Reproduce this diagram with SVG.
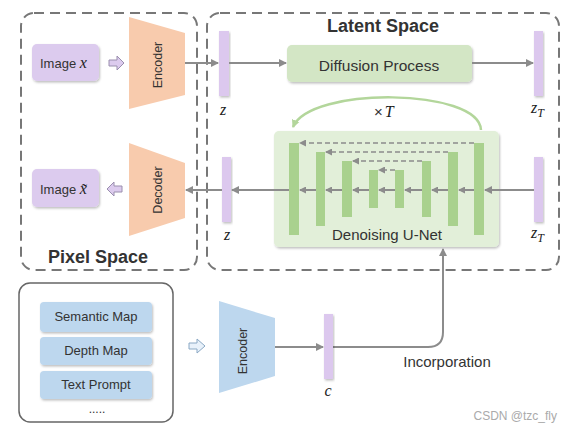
<svg xmlns="http://www.w3.org/2000/svg" width="572" height="432" viewBox="0 0 572 432">
<style>
.lbl{font-family:"Liberation Sans",Arial,sans-serif;fill:#333;}
.math{font-family:"Liberation Serif","DejaVu Serif",serif;font-style:italic;fill:#222;}
.title{font-family:"Liberation Sans",Arial,sans-serif;font-weight:bold;font-size:18px;fill:#333;}
.region{fill:none;stroke:#777;stroke-width:2;stroke-dasharray:10,6;}
.img{fill:#dccbee;}
.bar{fill:#dcc8ee;}
.ubar{fill:#a9d18e;}
.blue{fill:#bdd7ee;}
.conn{fill:none;stroke:#8c8c8c;stroke-width:2;}
.skip{fill:none;stroke:#8c8c8c;stroke-width:1.5;stroke-dasharray:5,3;}
</style>
<defs>
<filter id="sh" x="-20%" y="-20%" width="140%" height="140%">
<feDropShadow dx="1" dy="1.5" stdDeviation="1" flood-color="#000" flood-opacity="0.25"/>
</filter>
<marker id="ah" markerWidth="8" markerHeight="8" refX="7" refY="4" orient="auto" markerUnits="userSpaceOnUse">
<path d="M0,0 L8,4 L0,8 Z" fill="#8c8c8c"/>
</marker>
<marker id="ahs" markerWidth="7" markerHeight="7" refX="6" refY="3.5" orient="auto" markerUnits="userSpaceOnUse">
<path d="M0,0 L7,3.5 L0,7 Z" fill="#8c8c8c"/>
</marker>
<marker id="ahg" markerWidth="10" markerHeight="10" refX="7" refY="5" orient="auto" markerUnits="userSpaceOnUse">
<path d="M0,1 L8,5 L0,9 Z" fill="#b3d69b"/>
</marker>
</defs>
<rect width="572" height="432" fill="#fff"/>

<g id="pixel-space">
<rect class="region" x="21" y="13" width="176" height="257" rx="13"/>
<text class="title" x="98" y="263" text-anchor="middle">Pixel Space</text>
</g>
<g id="latent-space">
<rect class="region" x="207" y="13" width="352" height="257" rx="13"/>
<text class="title" x="383" y="32" text-anchor="middle">Latent Space</text>
</g>

<g id="image-x">
<rect class="img" x="32" y="44" width="67" height="37" rx="5" filter="url(#sh)"/>
<text class="lbl" x="40" y="68" font-size="13">Image <tspan class="math" font-size="16">x</tspan></text>
</g>
<g id="image-xt">
<rect class="img" x="32" y="169" width="67" height="38" rx="5" filter="url(#sh)"/>
<text class="lbl" x="40" y="194" font-size="13">Image <tspan class="math" font-size="16">x̃</tspan></text>
</g>

<g id="arrow-in">
<path d="M109,60 H117 V56 L124,63 L117,70 V66 H109 Z" fill="#dccbee" stroke="#9a8fae" stroke-width="1"/>
</g>
<g id="arrow-out">
<path d="M122,186 H114 V182 L107,189 L114,196 V192 H122 Z" fill="#dccbee" stroke="#9a8fae" stroke-width="1"/>
</g>

<g id="encoder">
<path d="M129,17 L185,33 L185,95 L129,109 Z" fill="#f8cbad"/>
<text class="lbl" font-size="12.5" text-anchor="middle" transform="translate(162,65) rotate(-90)">Encoder</text>
</g>
<g id="decoder">
<path d="M129,143 L185,163 L185,218 L129,236 Z" fill="#f8cbad"/>
<text class="lbl" font-size="12.5" text-anchor="middle" transform="translate(162,190) rotate(-90)">Decoder</text>
</g>

<g id="z-top">
<rect class="bar" x="219" y="31" width="10" height="65" filter="url(#sh)"/>
<text class="math" x="223" y="115" font-size="16" text-anchor="middle">z</text>
</g>
<g id="z-bottom">
<rect class="bar" x="222" y="157" width="9" height="65" filter="url(#sh)"/>
<text class="math" x="227" y="240" font-size="16" text-anchor="middle">z</text>
</g>

<g id="diffusion">
<rect x="287" y="45" width="185" height="37" rx="5" fill="#d3e6c5" filter="url(#sh)"/>
<text class="lbl" x="379" y="71" font-size="15.5" text-anchor="middle">Diffusion Process</text>
</g>

<g id="zT-top">
<rect class="bar" x="534" y="31" width="9" height="65" filter="url(#sh)"/>
<text class="math" x="531" y="113" font-size="16">z<tspan font-size="12" dy="4">T</tspan></text>
</g>
<g id="zT-bottom">
<rect class="bar" x="534" y="157" width="9" height="65" filter="url(#sh)"/>
<text class="math" x="531" y="238" font-size="16">z<tspan font-size="12" dy="4">T</tspan></text>
</g>

<g id="unet">
<rect x="274" y="131" width="225" height="116" rx="5" fill="#e2efd9" filter="url(#sh)"/>
<text class="lbl" x="387" y="240" font-size="15" text-anchor="middle">Denoising U-Net</text>
</g>

<g id="connectors">
<path class="conn" d="M185,63 H218" marker-end="url(#ah)"/>
<path class="conn" d="M229,63 H286" marker-end="url(#ah)"/>
<path class="conn" d="M472,63 H533" marker-end="url(#ah)"/>
<path class="conn" d="M534,190 H485" marker-end="url(#ah)"/>
<path class="conn" d="M474,190 H459" marker-end="url(#ahs)"/>
<path class="conn" d="M448,190 H432" marker-end="url(#ahs)"/>
<path class="conn" d="M422,190 H405" marker-end="url(#ahs)"/>
<path class="conn" d="M395,190 H379" marker-end="url(#ahs)"/>
<path class="conn" d="M369,190 H353" marker-end="url(#ahs)"/>
<path class="conn" d="M342,190 H326" marker-end="url(#ahs)"/>
<path class="conn" d="M316,190 H300" marker-end="url(#ahs)"/>
<path class="conn" d="M289,190 H232" marker-end="url(#ah)"/>
<path class="conn" d="M222,190 H186" marker-end="url(#ah)"/>
<path class="skip" d="M474,143 H300" marker-end="url(#ahs)"/>
<path class="skip" d="M448,152 H326" marker-end="url(#ahs)"/>
<path class="skip" d="M422,161 H353" marker-end="url(#ahs)"/>
<path class="skip" d="M395,170 H379" marker-end="url(#ahs)"/>
<path d="M481,130 C479,88 310,86 293,127" fill="none" stroke="#b3d69b" stroke-width="2.5" marker-end="url(#ahg)"/>
<path class="conn" d="M275,347 H323" marker-end="url(#ah)"/>
<path class="conn" d="M333,347 H428 Q443,347 443,332 V249" marker-end="url(#ah)"/>
</g>

<g id="unet-layers">
<rect class="ubar" x="289" y="143" width="10" height="92"/>
<rect class="ubar" x="316" y="152" width="9" height="74"/>
<rect class="ubar" x="342" y="161" width="10" height="56"/>
<rect class="ubar" x="369" y="170" width="9" height="38"/>
<rect class="ubar" x="395" y="170" width="9" height="38"/>
<rect class="ubar" x="422" y="161" width="9" height="56"/>
<rect class="ubar" x="448" y="152" width="10" height="74"/>
<rect class="ubar" x="474" y="143" width="10" height="92"/>
</g>
<text class="lbl" x="374" y="117" font-size="15">×<tspan class="math" font-size="16" dx="2">T</tspan></text>

<g id="conditions">
<rect x="19" y="283" width="154" height="139" rx="11" fill="#fff" stroke="#666" stroke-width="1.5"/>
<rect class="blue" x="40" y="302" width="112" height="30" rx="4" filter="url(#sh)"/>
<text class="lbl" x="96" y="321" font-size="13" text-anchor="middle">Semantic Map</text>
<rect class="blue" x="40" y="337" width="112" height="28" rx="4" filter="url(#sh)"/>
<text class="lbl" x="96" y="355" font-size="13" text-anchor="middle">Depth Map</text>
<rect class="blue" x="40" y="371" width="112" height="28" rx="4" filter="url(#sh)"/>
<text class="lbl" x="96" y="389" font-size="13" text-anchor="middle">Text Prompt</text>
<text class="lbl" x="97" y="413" font-size="12" text-anchor="middle">.....</text>
</g>
<g id="arrow-cond">
<path d="M189,343 H197 V339 L205,346 L197,353 V349 H189 Z" fill="#e8f1fa" stroke="#8aa8c4" stroke-width="1"/>
</g>
<g id="cond-encoder">
<path d="M219,301 L275,318 L275,376 L219,393 Z" fill="#bdd7ee"/>
<text class="lbl" font-size="12.5" text-anchor="middle" transform="translate(247,351) rotate(-90)">Encoder</text>
</g>
<g id="c">
<rect class="bar" x="324" y="314" width="9" height="65" filter="url(#sh)"/>
<text class="math" x="328" y="396" font-size="16" text-anchor="middle">c</text>
</g>
<text class="lbl" x="447" y="367" font-size="15" text-anchor="middle">Incorporation</text>
<text x="557" y="420" font-family="Liberation Sans,Arial,sans-serif" font-size="12" fill="#aaa" text-anchor="end">CSDN @tzc_fly</text>
</svg>
